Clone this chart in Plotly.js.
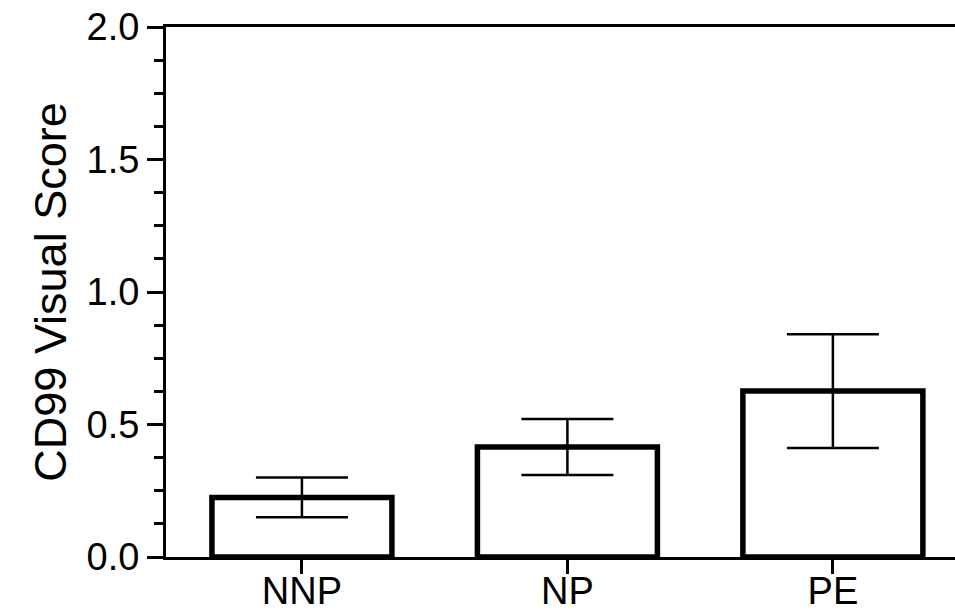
<!DOCTYPE html>
<html>
<head>
<meta charset="utf-8">
<script src="https://cdn.plot.ly/plotly-3.0.1.min.js"></script>
<style>
  html, body { margin: 0; padding: 0; background: #fff; }
  #chart { width: 955px; height: 612px; }
</style>
</head>
<body>
<div id="chart"></div>
<script>
// Group labels and mean CD99 visual scores with their error half-widths
const groups = ["NNP", "NP", "PE"];
const meanScore = [0.225, 0.415, 0.626];
const scoreError = [0.075, 0.106, 0.215];

// y-axis tick labels
const yTickValues = [0, 0.5, 1.0, 1.5, 2.0];
const yTickLabels = ["0.0", "0.5", "1.0", "1.5", "2.0"];

const FONT = "Liberation Sans, Arial, Helvetica, sans-serif";

const trace = {
  type: "bar",
  x: groups,
  y: meanScore,
  width: 0.678,
  marker: { color: "#ffffff", line: { color: "#000000", width: 5.5 } },
  error_y: {
    type: "data",
    array: scoreError,
    symmetric: true,
    visible: true,
    color: "#000000",
    thickness: 2.5,
    width: 46
  },
  hoverinfo: "skip"
};

const layout = {
  width: 955,
  height: 612,
  margin: { l: 166, r: 0, t: 27, b: 55, pad: 0 },
  paper_bgcolor: "#ffffff",
  plot_bgcolor: "#ffffff",
  showlegend: false,
  font: { family: FONT, color: "#000000" },
  xaxis: {
    type: "category",
    range: [-0.512, 2.46],
    showline: true,
    linecolor: "#000000",
    linewidth: 3,
    mirror: true,
    ticks: "outside",
    ticklen: 14,
    tickwidth: 3,
    tickcolor: "#000000",
    ticklabelstandoff: -16,
    tickfont: { family: FONT, size: 38, color: "#000000" },
    showgrid: false,
    zeroline: false,
    fixedrange: true
  },
  yaxis: {
    range: [0, 2.0],
    tickmode: "array",
    tickvals: yTickValues,
    ticktext: yTickLabels,
    showline: true,
    linecolor: "#000000",
    linewidth: 3,
    ticks: "outside",
    ticklen: 16,
    tickwidth: 3,
    tickcolor: "#000000",
    minor: { dtick: 0.125, ticks: "outside", ticklen: 9, tickwidth: 3, tickcolor: "#000000", showgrid: false },
    tickfont: { family: FONT, size: 38, color: "#000000" },
    showgrid: false,
    zeroline: false,
    fixedrange: true,
    title: { text: "CD99 Visual Score", font: { family: FONT, size: 45, color: "#000000" }, standoff: 6 }
  }
};

Plotly.newPlot("chart", [trace], layout, { staticPlot: true, displayModeBar: false });
</script>
</body>
</html>
